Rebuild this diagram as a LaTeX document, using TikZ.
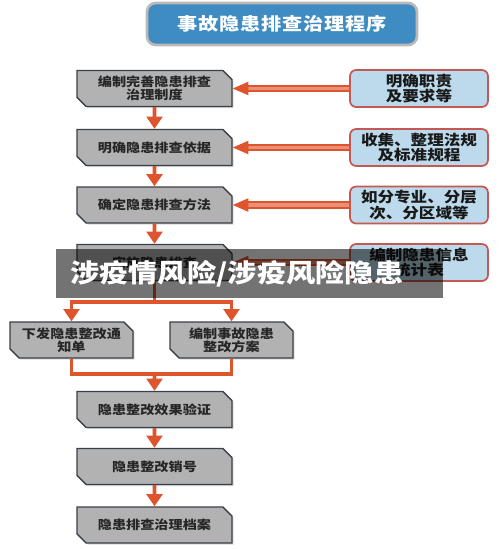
\documentclass[tikz,border=0pt]{standalone}
\usepackage{fontspec}
\setmainfont{Noto Sans CJK SC}[FakeStretch=1.15]
\usepackage{tikz}
\usetikzlibrary{calc,shapes.misc,arrows.meta,shadows}
\definecolor{arrowred}{RGB}{222,84,44}
\definecolor{boxgray}{RGB}{178,178,178}
\definecolor{boxline}{RGB}{58,64,72}
\definecolor{noteblue}{RGB}{188,218,236}
\definecolor{notered}{RGB}{196,88,82}
\definecolor{titleblue}{RGB}{62,140,194}

\begin{document}
\begin{tikzpicture}[x=0.02cm,y=-0.02cm,>={Triangle[width=9pt,length=7pt]},
	stepbox/.style={chamfered rectangle,chamfered rectangle corners={north east,south west},
		chamfered rectangle xsep=2.6pt,chamfered rectangle ysep=2.6pt,
		fill=boxgray,draw=boxline,line width=0.8pt,inner sep=0pt,
		minimum width=3.1cm,minimum height=0.72cm,align=center,text=black!85,
		font=\fontsize{7}{7.4}\selectfont\bfseries,
		drop shadow={opacity=0.3,shadow xshift=0.9pt,shadow yshift=-0.9pt}},
	notebox/.style={rectangle,rounded corners=3.5pt,fill=noteblue,draw=notered,line width=1pt,
		minimum width=2.76cm,minimum height=0.74cm,inner sep=0pt,align=center,text=black!90,
		font=\fontsize{8.2}{8.6}\selectfont\bfseries},
	vline/.style={arrowred,line width=2.2pt},
	hline/.style={draw=arrowred,double=arrowred!65!white,line width=1.1pt,double distance=1.9pt,
		-{Triangle[width=7.5pt,length=9pt]}}]
	
	\useasboundingbox (0,0) rectangle (500,549);
	
	%the title
	\def\gap{\hspace{0.5pt}}
	\node[rectangle,rounded corners=5pt,fill=titleblue,draw=gray!55,line width=1.5pt,
		minimum width=5.4cm,minimum height=0.84cm,text=white,
		font=\fontsize{10}{12}\selectfont\bfseries] (title) at (282,24)
		{事\gap 故\gap 隐\gap 患\gap 排\gap 查\gap 治\gap 理\gap 程\gap 序};
	
	% the main steps
	\node[stepbox] (b1) at (154.5,88.5) {编制完善隐患排查\\治理制度};
	\node[stepbox] (b2) at (154.5,147.5) {明确隐患排查依据};
	\node[stepbox] (b3) at (154.5,205) {确定隐患排查方法};
	\node[stepbox] (b4) at (154.5,262.5) {实施隐患排查};
	\node[stepbox,minimum width=2.46cm] (b5) at (71.5,340) {下发隐患整改通\\知单};
	\node[stepbox,minimum width=2.46cm] (b6) at (231.5,340) {编制事故隐患\\整改方案};
	\node[stepbox] (b7) at (154.5,409.5) {隐患整改效果验证};
	\node[stepbox] (b8) at (154.5,466.5) {隐患整改销号};
	\node[stepbox] (b9) at (154.5,525) {隐患排查治理档案};
	
	% the notes on the right
	\foreach \n/\y/\txt in {1/88.5/{明确职责\\及要求等},2/147.5/{收集、整理法规\\及标准规程},
		3/205/{如分专业、分层\\次、分区域等},4/262.5/{编制隐患信息\\统计表}}
	{
		\node[notebox] (r\n) at (419,\y) {\txt};
		\draw[hline] (r\n.west) -- (b\n.east);
	}
	
	% the flow
	\draw[vline,->] (b1) -- (b2);
	\draw[vline,->] (b2) -- (b3);
	\draw[vline,->] (b3) -- (b4);
	
	\coordinate (split) at (154.5,302);
	\coordinate (join) at (154.5,374);
	\draw[vline] (b4.south) -- (split);
	\draw[vline,->] (split) -| (b5.north);
	\draw[vline,->] (split) -| (b6.north);
	\draw[vline] (b5.south) |- (join);
	\draw[vline] (b6.south) |- (join);
	\draw[vline,->] (join) -- (b7);
	
	\draw[vline,->] (b7) -- (b8);
	\draw[vline,->] (b8) -- (b9);
	
	% the overlay band
	\node[rectangle,fill=black,fill opacity=0.55,text opacity=1,text=white,
		minimum width=7.74cm,minimum height=0.98cm,inner xsep=0.28cm,text width=7.18cm,align=left,
		font=\fontsize{14.5}{16}\selectfont\bfseries] (band) at (249.5,273.5) {涉疫情风险/涉疫风险隐患};
\end{tikzpicture}
\end{document}
